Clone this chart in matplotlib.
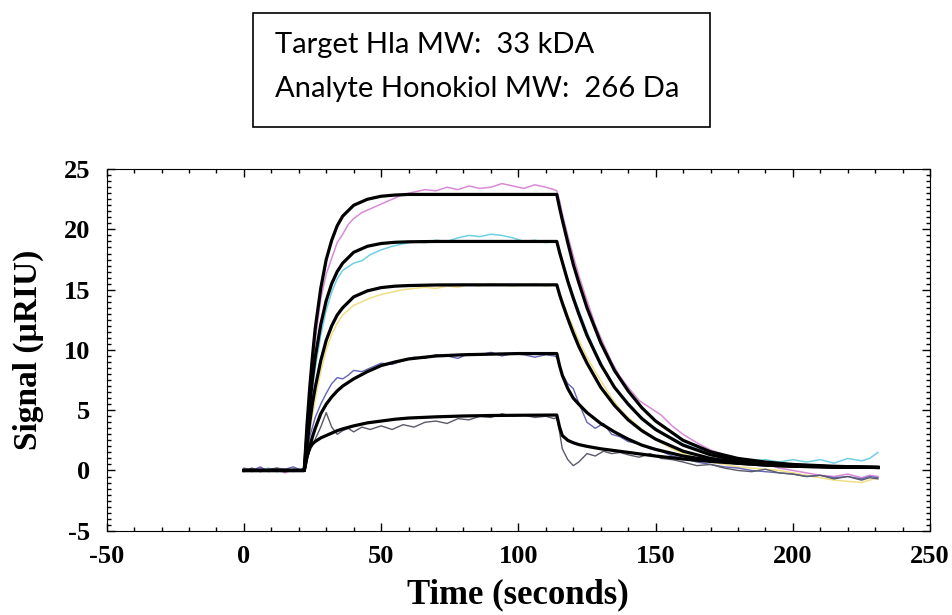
import matplotlib.pyplot as plt
from matplotlib.patches import Rectangle
from matplotlib.ticker import MultipleLocator

plt.rcParams['axes.unicode_minus'] = False

# sensorgram: raw traces (5 concentrations) and 1:1 fits
t_data = [0, 3, 6, 9, 12, 15, 18, 21, 22, 23, 24, 25, 26, 28, 30, 32, 34, 36, 38, 40,
          43, 46, 50, 54, 58, 62, 66, 70, 74, 78, 82, 86, 90, 94, 98, 102, 106, 110,
          113, 114, 115, 116, 118, 120, 122, 125, 128, 131, 134, 137, 140, 144, 148,
          152, 156, 160, 165, 170, 175, 180, 185, 190, 195, 200, 205, 210, 215, 220,
          225, 228, 231]

magenta = [0.1, -0.1, 0.2, 0.0, 0.1, -0.2, 0.1, 0.0, 0.2, 3.0, 6.0, 8.7, 10.8, 14.2, 16.3,
           17.6, 18.9, 19.6, 20.4, 20.9, 21.4, 21.7, 22.1, 22.5, 22.9, 23.1, 23.3, 23.2,
           23.5, 23.3, 23.6, 23.4, 23.5, 23.8, 23.6, 23.4, 23.7, 23.5, 23.3, 23.2, 22.4,
           21.3, 19.5, 17.8, 16.2, 14.1, 12.1, 10.5, 9.0, 7.8, 6.9, 5.8, 5.2, 4.6, 3.7,
           3.0, 2.3, 1.7, 1.3, 0.9, 0.6, 0.5, 0.2, 0.0, -0.2, -0.4, -0.5, -0.3, -0.6,
           -0.4, -0.5]
cyan = [-0.1, 0.1, 0.0, 0.2, -0.1, 0.1, 0.0, 0.1, 0.1, 2.5, 4.8, 6.8, 8.5, 11.2, 13.3,
        14.8, 15.9, 16.6, 16.9, 17.2, 17.4, 17.9, 18.3, 18.6, 18.8, 19.0, 18.9, 19.1,
        19.0, 19.3, 19.5, 19.4, 19.6, 19.5, 19.3, 19.0, 19.1, 18.9, 19.0, 18.9, 18.2,
        17.4, 15.9, 14.5, 13.3, 11.5, 9.9, 8.5, 7.3, 6.3, 5.6, 4.6, 3.8, 3.2, 2.7, 2.2,
        1.8, 1.5, 1.2, 1.0, 0.8, 0.9, 0.7, 0.9, 0.7, 0.9, 0.6, 1.0, 0.8, 1.0, 1.5]
yellow = [0.0, 0.1, -0.1, 0.1, 0.0, 0.1, -0.1, 0.0, 0.0, 1.6, 3.2, 4.6, 5.9, 8.2, 10.0,
          11.3, 12.2, 12.9, 13.3, 13.7, 14.0, 14.3, 14.6, 14.8, 15.0, 15.1, 15.2, 15.1,
          15.3, 15.2, 15.4, 15.3, 15.5, 15.4, 15.3, 15.4, 15.5, 15.3, 15.4, 15.4, 14.7,
          14.1, 12.9, 11.9, 10.8, 9.4, 8.2, 7.1, 6.0, 5.1, 4.4, 3.6, 2.9, 2.3, 1.8, 1.4,
          1.0, 0.7, 0.5, 0.3, 0.2, 0.1, 0.0, -0.2, -0.4, -0.6, -0.8, -0.9, -1.0, -0.8, -0.6]
blue = [0.2, 0.0, 0.3, -0.1, 0.2, 0.1, 0.3, 0.0, 0.2, 1.5, 2.8, 3.6, 4.4, 5.5, 6.4, 7.2,
        7.7, 7.6, 7.9, 8.3, 8.2, 8.5, 8.9, 8.8, 9.1, 9.4, 9.3, 9.6, 9.5, 9.3, 9.7, 9.6,
        9.8, 9.5, 9.7, 9.6, 9.4, 9.6, 9.5, 9.4, 8.6, 8.0, 7.2, 6.8, 5.6, 4.0, 3.5, 3.9,
        3.0, 2.8, 2.4, 2.2, 1.8, 1.6, 1.2, 1.0, 0.7, 0.5, 0.3, 0.2, 0.0, -0.1, -0.2, -0.3,
        -0.5, -0.4, -0.6, -0.5, -0.7, -0.5, -0.6]
gray = [0.0, 0.2, -0.1, 0.1, 0.2, -0.1, 0.1, 0.0, 0.3, 1.0, 1.6, 2.1, 2.6, 3.6, 4.8, 3.6,
        3.0, 3.3, 3.5, 3.2, 3.6, 3.4, 3.7, 3.4, 3.8, 3.6, 4.0, 4.1, 3.9, 4.3, 4.2, 4.5,
        4.4, 4.7, 4.5, 4.6, 4.4, 4.5, 4.3, 4.4, 3.2, 1.8, 0.9, 0.4, 0.7, 1.4, 1.2, 1.6,
        1.4, 1.5, 1.3, 1.1, 1.4, 1.0, 0.9, 0.7, 0.4, 0.5, 0.2, 0.0, -0.1, 0.1, -0.2, -0.3,
        -0.5, -0.4, -0.7, -0.5, -0.8, -0.6, -0.7]

t_fit = [0, 22, 23, 24, 25, 26, 28, 30, 32, 34, 36, 40, 45, 50, 55, 60, 70, 80, 90, 100,
         114, 115, 116, 118, 120, 122, 125, 130, 135, 140, 145, 150, 160, 170, 180, 190,
         200, 215, 231]
fit_a = [0, 0, 3.8, 6.9, 9.5, 11.8, 15.1, 17.5, 19.1, 20.3, 21.1, 22.0, 22.5, 22.75,
         22.85, 22.9, 22.9, 22.9, 22.9, 22.9, 22.9, 21.8, 20.8, 18.9, 17.1, 15.6, 13.5,
         10.6, 8.3, 6.6, 5.2, 4.1, 2.5, 1.55, 1.0, 0.7, 0.5, 0.35, 0.25]
fit_b = [0, 0, 3.0, 5.5, 7.6, 9.4, 12.1, 14.1, 15.5, 16.5, 17.2, 18.1, 18.6, 18.83,
         18.93, 18.97, 19.0, 19.0, 19.0, 19.0, 19.0, 18.1, 17.3, 15.7, 14.3, 13.0, 11.2,
         8.8, 6.9, 5.5, 4.3, 3.4, 2.1, 1.3, 0.85, 0.6, 0.45, 0.3, 0.25]
fit_c = [0, 0, 2.1, 4.0, 5.6, 6.9, 9.1, 10.8, 12.0, 12.9, 13.5, 14.4, 14.9, 15.17,
         15.29, 15.34, 15.39, 15.4, 15.4, 15.4, 15.4, 14.6, 13.9, 12.6, 11.4, 10.3, 8.9,
         6.9, 5.4, 4.2, 3.3, 2.6, 1.6, 1.0, 0.7, 0.5, 0.4, 0.3, 0.25]
fit_d = [0, 0, 1.1, 2.0, 2.8, 3.5, 4.7, 5.5, 6.1, 6.6, 7.0, 7.6, 8.2, 8.7, 9.0, 9.25,
         9.5, 9.6, 9.65, 9.7, 9.7, 8.7, 7.9, 6.8, 6.0, 5.5, 4.8, 3.9, 3.2, 2.6, 2.1,
         1.75, 1.2, 0.85, 0.6, 0.45, 0.35, 0.28, 0.25]
fit_e = [0, 0, 1.2, 1.9, 2.2, 2.4, 2.7, 2.9, 3.1, 3.3, 3.45, 3.7, 3.95, 4.1, 4.25, 4.35,
         4.45, 4.52, 4.56, 4.58, 4.6, 3.6, 2.9, 2.5, 2.3, 2.15, 2.0, 1.8, 1.65, 1.5,
         1.35, 1.2, 0.95, 0.75, 0.6, 0.45, 0.35, 0.28, 0.25]

fig = plt.figure(figsize=(9.52, 6.15), dpi=100)
ax = fig.add_axes([0.112, 0.137, 0.865, 0.588])

ax.plot(t_data, magenta, color='#d98ad9', lw=1.1)
ax.plot(t_data, cyan, color='#6fd0e2', lw=1.1)
ax.plot(t_data, yellow, color='#f0de85', lw=1.1)
ax.plot(t_data, blue, color='#6464b8', lw=1.0)
ax.plot(t_data, gray, color='#5a5a68', lw=1.0)

for f in [fit_a, fit_b, fit_c, fit_d, fit_e]:
    ax.plot(t_fit, f, color='black', lw=2.3)

ax.set_xlim(-50, 250)
ax.set_ylim(-5, 25)
ax.xaxis.set_major_locator(MultipleLocator(50))
ax.xaxis.set_minor_locator(MultipleLocator(10))
ax.yaxis.set_major_locator(MultipleLocator(5))
ax.yaxis.set_minor_locator(MultipleLocator(0.5))
ax.tick_params(which='both', direction='in', top=True, right=True, width=1)
ax.tick_params(which='major', length=6)
ax.tick_params(which='minor', length=3)
ax.tick_params(axis='x', which='major', pad=10)
ax.tick_params(axis='y', which='major', pad=12)
for lab in ax.get_xticklabels() + ax.get_yticklabels():
    lab.set_fontfamily('Liberation Serif')
    lab.set_fontweight('bold')
    lab.set_fontsize(19)

ax.set_xlabel('Time (seconds)', fontfamily='Liberation Serif', fontweight='bold',
              fontsize=25, labelpad=8)
ax.set_ylabel('Signal (µRIU)', fontfamily='Liberation Serif', fontweight='bold',
              fontsize=24, labelpad=14)

# info box above the plot
fig.patches.append(Rectangle((253 / 952, 1 - 127 / 615), 457 / 952, 114 / 615,
                             transform=fig.transFigure, fill=False, ec='black', lw=1.2))
fig.text(275 / 952, 1 - 45 / 615, 'Target Hla MW:  33 kDA', fontfamily='Lato',
         fontsize=21, va='center', ha='left')
fig.text(275 / 952, 1 - 89 / 615, 'Analyte Honokiol MW:  266 Da', fontfamily='Lato',
         fontsize=21, va='center', ha='left')

plt.savefig('out.png', dpi=100)
